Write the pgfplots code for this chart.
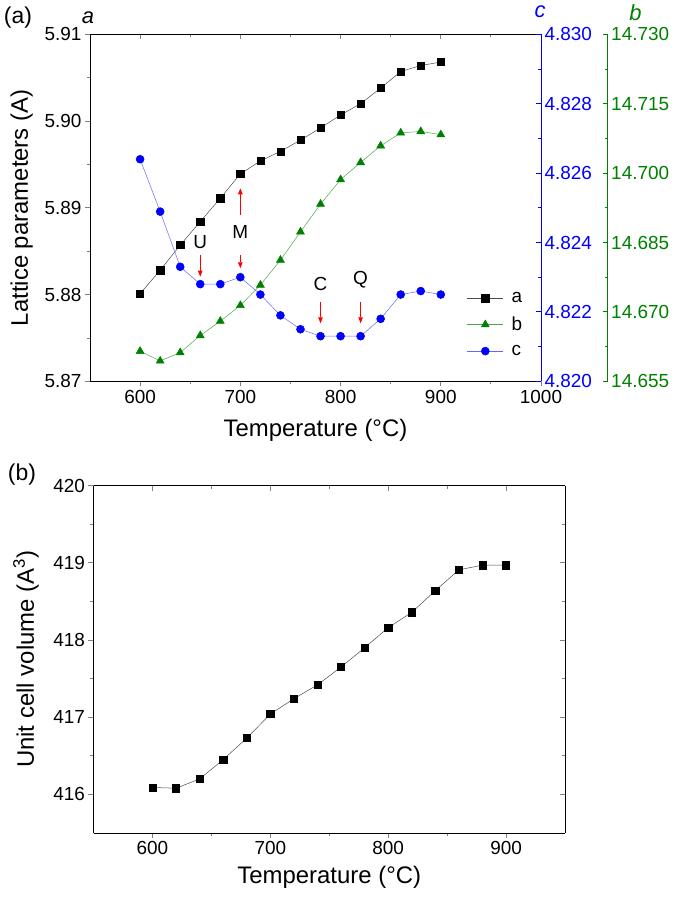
\documentclass[border=0pt]{standalone}
\usepackage{fontspec}
\setmainfont{Liberation Sans}
\usepackage{pgfplots}
\pgfplotsset{compat=1.18}
\usetikzlibrary{arrows.meta}
\definecolor{cgreen}{RGB}{0,128,0}
\definecolor{cblue}{RGB}{0,0,255}
\pgfplotsset{
  base/.style={scale only axis,
    /pgf/number format/assume math mode=true,
    /pgf/number format/1000 sep={},
    ticklabel style={font=\fontsize{19}{22}\selectfont},
    label style={font=\fontsize{24}{28}\selectfont},
    major tick length=5bp, minor tick length=3bp,
    tick style={line width=0.8bp},
    axis line style={line width=0.9bp},
  },
}
\begin{document}
\begin{tikzpicture}
\useasboundingbox (0bp,0bp) rectangle (685bp,897bp);

% ---------------- panel (a): a axis ----------------
\begin{axis}[base, at={(90bp,515.7bp)}, anchor=south west,
  width=451bp, height=347bp,
  xmin=550, xmax=1000, ymin=5.87, ymax=5.91,
  axis x line*=bottom, axis y line*=left, tick align=outside,
  xtick={600,700,800,900,1000}, minor x tick num=1,
  ytick={5.87,5.88,5.89,5.90,5.91}, minor y tick num=1,
  yticklabel style={/pgf/number format/.cd,fixed,fixed zerofill,precision=2},
  xlabel={Temperature (°C)}, ylabel={Lattice parameters (A)},
  xlabel style={at={(axis description cs:0.5,-0.14)}, anchor=center},
  ylabel style={at={(axis description cs:-0.1514,0.5)}, anchor=center},
  legend image code/.code={\draw[mark repeat=2,mark phase=2,#1] plot coordinates {(0bp,0bp) (18bp,0bp) (36bp,0bp)};},
  legend style={at={(axis cs:926,5.8805)}, anchor=north west, draw=none, fill=none,
    font=\fontsize{19}{22}\selectfont, row sep=9bp, column sep=6bp, inner sep=0pt},
  legend cell align=left,
  clip=false,
]
\addplot[black!70, line width=0.5bp, mark=square*, mark size=3.6bp,
  mark options={fill=black, draw=black, solid}] coordinates {
(600,5.8801) (620,5.8828) (640,5.8857) (660,5.8884) (680,5.8911) (700,5.8939)
(720,5.8954) (740,5.8965) (760,5.8978) (780,5.8992) (800,5.9007) (820,5.9020)
(840,5.9038) (860,5.9057) (880,5.9064) (900,5.9068)};
\addlegendentry{a}
\addlegendimage{cgreen!70, line width=0.5bp, mark=triangle*, mark size=4.6bp, mark options={fill=cgreen, draw=cgreen}}
\addlegendentry{b}
\addlegendimage{cblue!60, line width=0.5bp, mark=*, mark size=4bp, mark options={fill=cblue, draw=cblue}}
\addlegendentry{c}
% annotations
\draw[red, line width=0.9bp, -{Triangle[length=6bp,width=4.5bp]}] (axis cs:660,5.88456) -- (axis cs:660,5.88206);
\draw[red, line width=0.9bp, -{Triangle[length=6bp,width=4.5bp]}] (axis cs:700,5.88456) -- (axis cs:700,5.88303);
\draw[red, line width=0.9bp, -{Triangle[length=6bp,width=4.5bp]}] (axis cs:700,5.88917) -- (axis cs:700,5.89225);
\draw[red, line width=0.9bp, -{Triangle[length=6bp,width=4.5bp]}] (axis cs:780,5.87918) -- (axis cs:780,5.87669);
\draw[red, line width=0.9bp, -{Triangle[length=6bp,width=4.5bp]}] (axis cs:820,5.87918) -- (axis cs:820,5.87669);
\node[font=\fontsize{19}{22}\selectfont] at (axis cs:660,5.8861) {U};
\node[font=\fontsize{19}{22}\selectfont] at (axis cs:700,5.88725) {M};
\node[font=\fontsize{19}{22}\selectfont] at (axis cs:780,5.88122) {C};
\node[font=\fontsize{19}{22}\selectfont] at (axis cs:820,5.88167) {Q};
\end{axis}

% top ticks of panel (a)
\begin{axis}[base, at={(90bp,515.7bp)}, anchor=south west,
  width=451bp, height=347bp,
  xmin=550, xmax=1000, ymin=5.87, ymax=5.91,
  axis x line*=top, axis y line=none, tick align=inside,
  xtick={600,700,800,900,1000}, minor x tick num=1, xticklabels={},
]
\end{axis}

% c axis (blue)
\begin{axis}[base, at={(90bp,515.7bp)}, anchor=south west,
  width=451bp, height=347bp,
  xmin=550, xmax=1000, ymin=4.820, ymax=4.830,
  axis x line=none, axis y line*=right, tick align=inside,
  ytick={4.820,4.822,4.824,4.826,4.828,4.830}, minor y tick num=1,
  y axis line style={cblue}, tick style={cblue},
  yticklabel style={text=cblue, /pgf/number format/.cd,fixed,fixed zerofill,precision=3},
]
\addplot[cblue!60, line width=0.5bp, mark=*, mark size=4bp,
  mark options={fill=cblue, draw=cblue, solid}] coordinates {
(600,4.82640) (620,4.82489) (640,4.82330) (660,4.82280) (680,4.82280) (700,4.82300)
(720,4.82250) (740,4.82190) (760,4.82150) (780,4.82130) (800,4.82130) (820,4.82130)
(840,4.82180) (860,4.82250) (880,4.82260) (900,4.82250)};
\end{axis}

% b axis (green), offset; same x scale
\begin{axis}[base, at={(90bp,515.7bp)}, anchor=south west,
  width=517.7bp, height=347bp,
  xmin=550, xmax=1066.5, ymin=14.655, ymax=14.730,
  axis x line=none, axis y line*=right, tick align=inside,
  ytick={14.655,14.670,14.685,14.700,14.715,14.730}, minor y tick num=1,
  y axis line style={cgreen}, tick style={cgreen},
  yticklabel style={text=cgreen, /pgf/number format/.cd,fixed,fixed zerofill,precision=3},
]
\addplot[cgreen!70, line width=0.5bp, mark=triangle*, mark size=4.6bp,
  mark options={fill=cgreen, draw=cgreen, solid}] coordinates {
(600,14.6615) (620,14.6594) (640,14.6612) (660,14.6649) (680,14.6680) (700,14.6714)
(720,14.6758) (740,14.6812) (760,14.6873) (780,14.6933) (800,14.6986) (820,14.7023)
(840,14.7059) (860,14.7087) (880,14.7090) (900,14.7083)};
\end{axis}

\node[font=\fontsize{23}{26}\selectfont] at (18bp,879bp) {(a)};
\node[font=\fontsize{22}{26}\selectfont\itshape] at (88bp,879.5bp) {a};
\node[font=\fontsize{22}{26}\selectfont\itshape, text=cblue] at (540bp,885.5bp) {c};
\node[font=\fontsize{22}{26}\selectfont\itshape, text=cgreen] at (635.5bp,884.5bp) {b};

% ---------------- panel (b) ----------------
\begin{axis}[base, at={(93.5bp,64bp)}, anchor=south west,
  width=471.5bp, height=347.3bp,
  xmin=550, xmax=950, ymin=415.5, ymax=420,
  axis x line*=bottom, axis y line*=left, tick align=outside,
  xtick={600,700,800,900}, minor x tick num=1,
  ytick={416,417,418,419,420}, minor y tick num=1,
  xlabel={Temperature (°C)}, ylabel={Unit cell volume (A\textsuperscript{3})},
  xlabel style={at={(axis description cs:0.5,-0.127)}, anchor=center},
  ylabel style={at={(axis description cs:-0.143,0.5)}, anchor=center},
]
\addplot[black!70, line width=0.5bp, mark=square*, mark size=3.6bp,
  mark options={fill=black, draw=black, solid}] coordinates {
(600,416.09) (620,416.08) (640,416.20) (660,416.45) (680,416.73) (700,417.04)
(720,417.24) (740,417.42) (760,417.65) (780,417.90) (800,418.16) (820,418.36)
(840,418.64) (860,418.91) (880,418.97) (900,418.97)};
\end{axis}
\begin{axis}[base, at={(93.5bp,64bp)}, anchor=south west,
  width=471.5bp, height=347.3bp,
  xmin=550, xmax=950, ymin=415.5, ymax=420,
  axis x line*=top, axis y line*=right, tick align=inside,
  xtick={600,700,800,900}, minor x tick num=1,
  ytick={416,417,418,419,420}, minor y tick num=1,
  xticklabels={}, yticklabels={},
]
\end{axis}
\node[font=\fontsize{23}{26}\selectfont] at (22bp,422bp) {(b)};
\end{tikzpicture}
\end{document}
